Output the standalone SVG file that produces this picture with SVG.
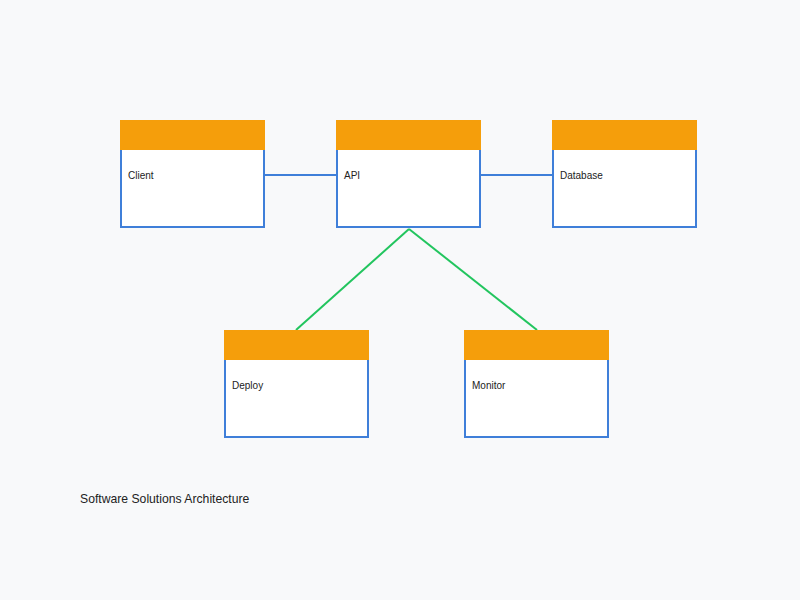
<svg xmlns="http://www.w3.org/2000/svg" width="800" height="600" viewBox="0 0 800 600">
<style>
.box{fill:#ffffff;stroke:#3f7fd9;stroke-width:2}
.hdr{fill:#f59e0b}
.lbl{font-family:"Liberation Sans",Arial,sans-serif;font-size:10px;fill:#222}
.title{font-family:"Liberation Sans",Arial,sans-serif;font-size:12.2px;fill:#222}
.blue{stroke:#3f7fd9;stroke-width:2;fill:none}
.green{stroke:#22c55e;stroke-width:2;fill:none}
</style>
<rect width="800" height="600" fill="#f8f9fa"/>
<g id="connectors">
<line class="blue" x1="265" y1="175" x2="336" y2="175"/>
<line class="blue" x1="481" y1="175" x2="552" y2="175"/>
<line class="green" x1="409" y1="229" x2="296" y2="330"/>
<line class="green" x1="409" y1="229" x2="537" y2="330"/>
</g>
<g id="client">
<rect class="box" x="121" y="121" width="143" height="106"/>
<rect class="hdr" x="120" y="120" width="145" height="30"/>
<text class="lbl" x="128" y="178.5">Client</text>
</g>
<g id="api">
<rect class="box" x="337" y="121" width="143" height="106"/>
<rect class="hdr" x="336" y="120" width="145" height="30"/>
<text class="lbl" x="344" y="178.5">API</text>
</g>
<g id="database">
<rect class="box" x="553" y="121" width="143" height="106"/>
<rect class="hdr" x="552" y="120" width="145" height="30"/>
<text class="lbl" x="560" y="178.5">Database</text>
</g>
<g id="deploy">
<rect class="box" x="225" y="331" width="143" height="106"/>
<rect class="hdr" x="224" y="330" width="145" height="30"/>
<text class="lbl" x="232" y="388.5">Deploy</text>
</g>
<g id="monitor">
<rect class="box" x="465" y="331" width="143" height="106"/>
<rect class="hdr" x="464" y="330" width="145" height="30"/>
<text class="lbl" x="472" y="388.5">Monitor</text>
</g>
<text class="title" x="80" y="502.5">Software Solutions Architecture</text>
</svg>
